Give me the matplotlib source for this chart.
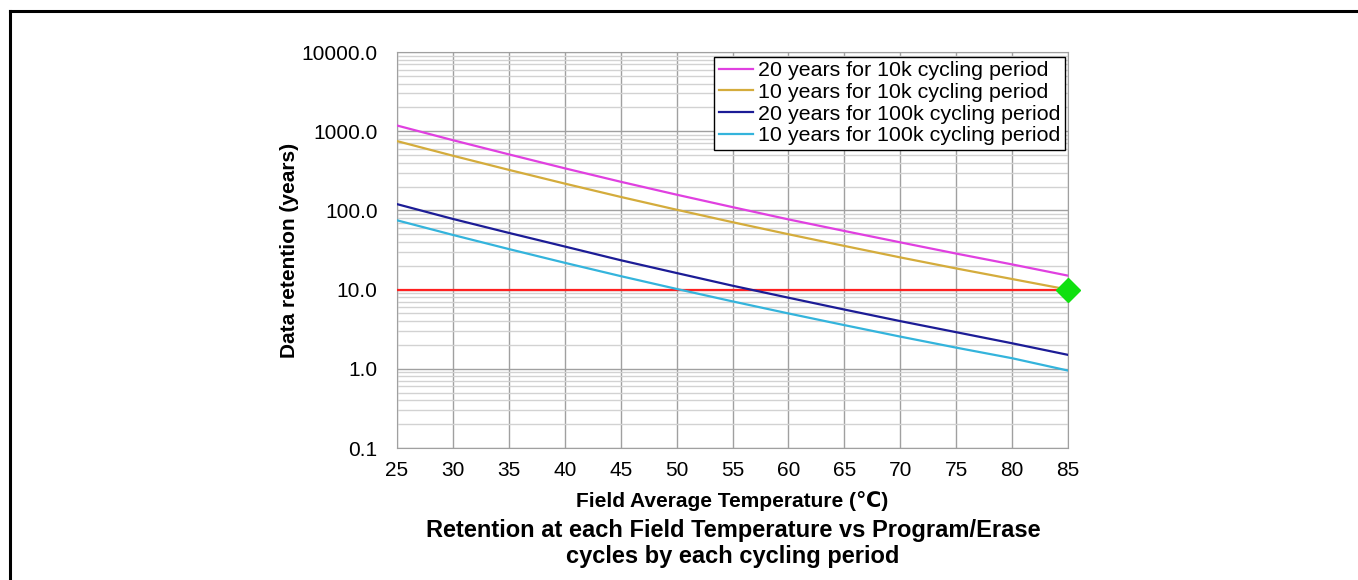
import numpy as np
import matplotlib
matplotlib.use('Agg')
import matplotlib.pyplot as plt
from matplotlib.ticker import FixedLocator, FuncFormatter, LogLocator, NullFormatter

plt.rcParams['font.family'] = ['Liberation Sans', 'DejaVu Sans']

# field average temperature (C)
temp = [25, 30, 35, 40, 45, 50, 55, 60, 65, 70, 75, 80, 85]

# data retention (years)
ret_20y_10k = [1180, 770, 510, 340, 230, 158, 110, 77, 55, 39.5, 28.5, 20.8, 15.0]
ret_10y_10k = [750, 490, 325, 218, 148, 102, 71, 50, 35.6, 25.5, 18.5, 13.6, 10.0]
ret_20y_100k = [120, 78, 52, 35, 23.5, 16.2, 11.2, 7.9, 5.6, 4.0, 2.9, 2.1, 1.5]
ret_10y_100k = [75, 49, 32.5, 21.8, 14.8, 10.2, 7.1, 5.0, 3.56, 2.55, 1.85, 1.36, 0.95]

spec_line = 10.0
spec_point = (85, 10.0)

labels = ['20 years for 10k cycling period',
          '10 years for 10k cycling period',
          '20 years for 100k cycling period',
          '10 years for 100k cycling period']
colors = ['#E040E0', '#D4AC3C', '#1C1C96', '#34B4DC']

fig = plt.figure(figsize=(13.58, 5.8), dpi=100)
ax = fig.add_axes([397/1358, 132/580, 671/1358, 396/580])

# frame lines of the original picture (left and top only)
fig.add_artist(plt.Line2D([10/1358, 10/1358], [0, 1-11/580], color='black', lw=2.2))
fig.add_artist(plt.Line2D([10/1358, 1], [1-11/580, 1-11/580], color='black', lw=2.2))

ax.set_yscale('log')
ax.set_xlim(25, 85)
ax.set_ylim(0.1, 10000)

ax.axhline(spec_line, color='#FF2020', lw=1.6, zorder=3)
for y, c, l in zip([ret_20y_10k, ret_10y_10k, ret_20y_100k, ret_10y_100k], colors, labels):
    ax.plot(temp, y, color=c, lw=1.6, label=l, zorder=4)
ax.plot([spec_point[0]], [spec_point[1]], marker='D', color='#10E010', ms=12,
        clip_on=False, zorder=6, linestyle='none')

ax.xaxis.set_major_locator(FixedLocator(temp))
ax.yaxis.set_major_locator(FixedLocator([0.1, 1, 10, 100, 1000, 10000]))
ax.yaxis.set_major_formatter(FuncFormatter(lambda v, p: '%.1f' % v))
ax.yaxis.set_minor_locator(LogLocator(base=10, subs=np.arange(2, 10), numticks=20))
ax.yaxis.set_minor_formatter(NullFormatter())

ax.grid(which='major', axis='both', color='#A0A0A0', lw=1.0)
ax.grid(which='minor', axis='y', color='#D2D2D2', lw=1.0)
ax.tick_params(which='both', length=0)
ax.tick_params(axis='x', labelsize=15, pad=9)
ax.tick_params(axis='y', labelsize=15, pad=14)
for s in ax.spines.values():
    s.set_color('#A0A0A0')

ax.set_ylabel('Data retention (years)', fontsize=15, fontweight='bold')
ax.yaxis.set_label_coords(-0.146, 0.5)
ax.set_xlabel('Field Average Temperature (℃)', fontsize=15, fontweight='bold', labelpad=8)

fig.text(733/1358, 1-530/580, 'Retention at each Field Temperature vs Program/Erase',
         ha='center', va='center', fontsize=17, fontweight='bold')
fig.text(733/1358, 1-556/580, 'cycles by each cycling period',
         ha='center', va='center', fontsize=17, fontweight='bold')

leg = ax.legend(loc='upper right', bbox_to_anchor=(0.9955, 0.988), fontsize=15.4,
                frameon=True, fancybox=False, edgecolor='black', framealpha=1,
                borderpad=0.2, labelspacing=0.13, handlelength=1.6, handletextpad=0.25,
                borderaxespad=0)
leg.get_frame().set_linewidth(1.0)
leg.set_zorder(10)

fig.savefig('out.png', dpi=100, facecolor='white')
